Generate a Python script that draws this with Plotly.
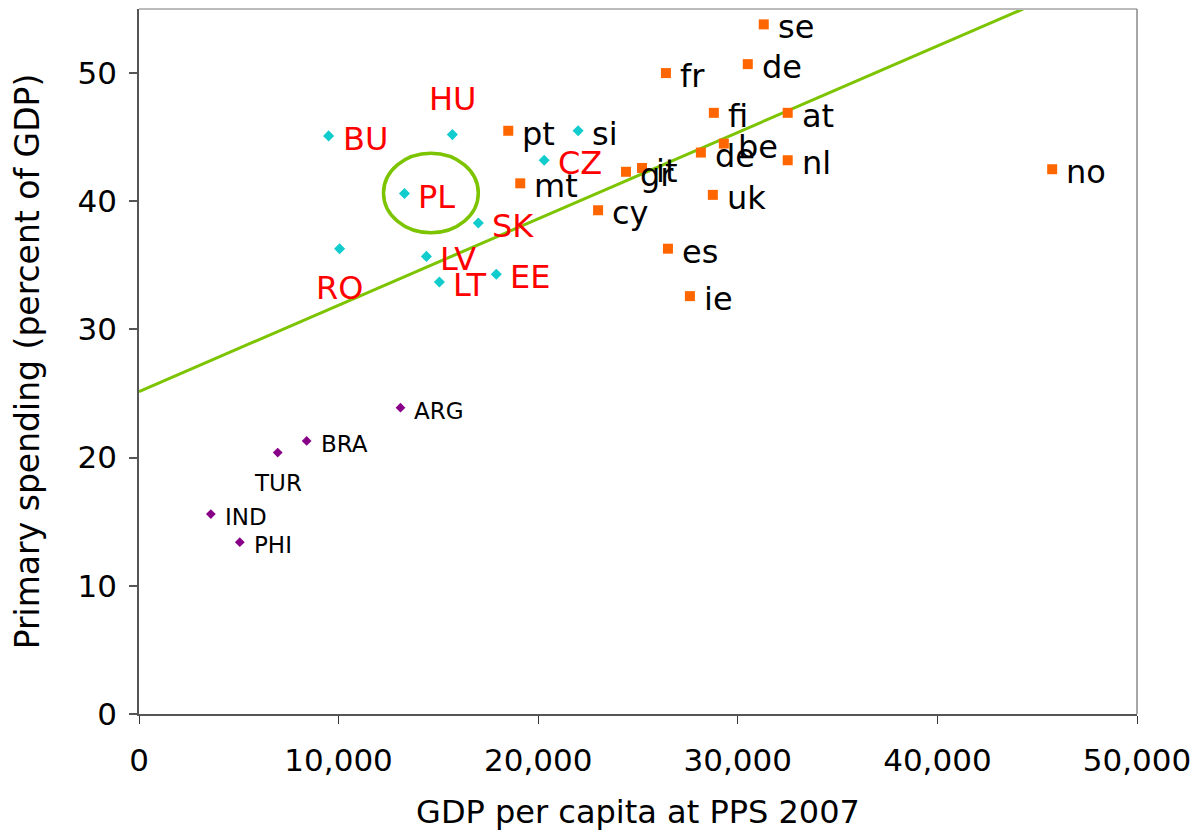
import plotly.graph_objects as go

# Old member states (plus Norway): GDP per capita at PPS 2007 vs primary spending, % of GDP
old_labels = ["se", "de", "fr", "fi", "at", "pt", "be", "de", "nl", "gr", "it",
              "uk", "cy", "mt", "es", "ie", "no"]
old_gdp = [31300, 30500, 26400, 28800, 32500, 18500, 29300, 28150, 32500, 24400,
           25200, 28750, 23000, 19100, 26500, 27600, 45750]
old_spend = [53.8, 50.7, 50.0, 46.9, 46.9, 45.5, 44.5, 43.8, 43.2, 42.3, 42.6,
             40.5, 39.3, 41.4, 36.3, 32.6, 42.5]

# New member states
new_labels = ["BU", "HU", "PL", "SK", "RO", "LV", "LT", "EE", "CZ", "si"]
new_gdp = [9500, 15700, 13300, 17000, 10050, 14400, 15050, 17900, 20300, 22000]
new_spend = [45.1, 45.2, 40.6, 38.3, 36.3, 35.7, 33.7, 34.3, 43.2, 45.5]

# Emerging economies
emg_labels = ["ARG", "BRA", "TUR", "IND", "PHI"]
emg_gdp = [13100, 8400, 6950, 3600, 5050]
emg_spend = [23.9, 21.3, 20.4, 15.6, 13.4]

# Linear trend: spending = intercept + slope * GDP
trend_intercept = 25.15
trend_slope = 0.000674

# Ellipse highlighting Poland
pl_box = dict(x0=12250, x1=17000, y0=37.55, y1=43.75)

x_ticks = [0, 10000, 20000, 30000, 40000, 50000]
y_ticks = [0, 10, 20, 30, 40, 50]
x_max, y_max = 50000, 55

FONT = "DejaVu Sans, Verdana, sans-serif"
GREEN = "#7DC400"

fig = go.Figure()

# trend line, clipped where it leaves the plot area
x_end = min(x_max, (y_max - trend_intercept) / trend_slope)
fig.add_trace(go.Scatter(
    x=[0, x_end], y=[trend_intercept, trend_intercept + trend_slope * x_end],
    mode="lines", line=dict(color=GREEN, width=3), hoverinfo="skip"))

fig.add_trace(go.Scatter(
    x=old_gdp, y=old_spend, mode="markers",
    marker=dict(symbol="square", size=10, color="#FF6600"), text=old_labels))
fig.add_trace(go.Scatter(
    x=new_gdp, y=new_spend, mode="markers",
    marker=dict(symbol="diamond", size=8.5, color="#10CCCC"), text=new_labels))
fig.add_trace(go.Scatter(
    x=emg_gdp, y=emg_spend, mode="markers",
    marker=dict(symbol="diamond", size=7.5, color="#880088"), text=emg_labels))

# label placement: default to the right of the marker
special = {
    "HU": dict(xanchor="center", xshift=0, yshift=36),
    "RO": dict(xanchor="center", xshift=0, yshift=-39),
    "TUR": dict(xanchor="center", xshift=0, yshift=-30),
}

annotations = []


def add_labels(labels, xs, ys, size):
    for lab, xv, yv in zip(labels, xs, ys):
        color = "#FF0000" if lab.isupper() and size > 28 else "#000000"
        pos = dict(xanchor="left", xshift=12, yshift=-3)
        pos.update(special.get(lab, {}))
        annotations.append(dict(
            x=xv, y=yv, text=lab, showarrow=False, yanchor="middle",
            font=dict(family=FONT, size=size, color=color), **pos))


add_labels(old_labels, old_gdp, old_spend, 32)
add_labels(new_labels, new_gdp, new_spend, 32)
add_labels(emg_labels, emg_gdp, emg_spend, 23)

shapes = [
    dict(type="circle", xref="x", yref="y", line=dict(color=GREEN, width=3.5), **pl_box),
    # top and right frame of the plot area
    dict(type="line", xref="paper", yref="paper", x0=0, x1=1, y0=1, y1=1,
         line=dict(color="#BBBBBB", width=2)),
    dict(type="line", xref="paper", yref="paper", x0=1, x1=1, y0=0, y1=1,
         line=dict(color="#888888", width=1.5)),
]

fig.update_layout(
    width=1197, height=831,
    margin=dict(l=139, r=60, t=9, b=117),
    paper_bgcolor="white", plot_bgcolor="white",
    showlegend=False,
    font=dict(family=FONT, size=31, color="#000000"),
    annotations=annotations,
    shapes=shapes,
    xaxis=dict(
        range=[0, x_max], tickvals=x_ticks,
        ticktext=[f"{v:,}" for v in x_ticks],
        showgrid=False, zeroline=False, automargin=False,
        showline=True, linecolor="#555555", linewidth=2,
        ticks="outside", ticklen=8, tickcolor="#333333", tickwidth=1,
        tickfont=dict(size=31), ticklabelstandoff=10,
        title=dict(text="GDP per capita at PPS 2007", font=dict(size=32), standoff=35),
    ),
    yaxis=dict(
        range=[0, y_max], tickvals=y_ticks,
        showgrid=False, zeroline=False, automargin=False,
        showline=True, linecolor="#555555", linewidth=1.5,
        ticks="outside", ticklen=8, tickcolor="#555555", tickwidth=1.5,
        tickfont=dict(size=31), ticklabelstandoff=6,
        title=dict(text="Primary spending (percent of GDP)", font=dict(size=33), standoff=28),
    ),
)

fig.write_html("out.html")
